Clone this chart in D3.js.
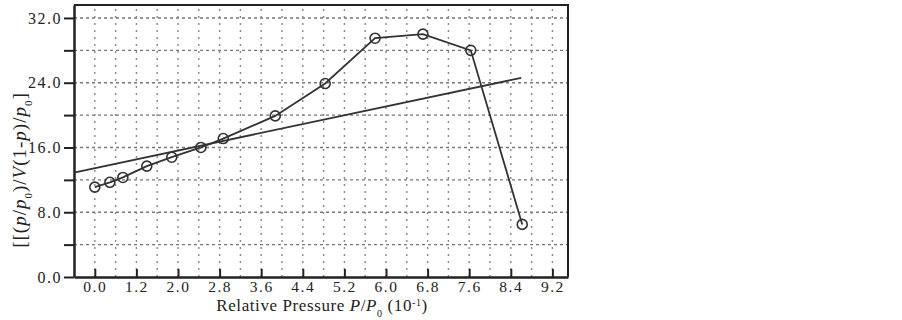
<!DOCTYPE html>
<html>
<head>
<meta charset="utf-8">
<script src="https://cdn.jsdelivr.net/npm/d3@7"></script>
<style>
  body { margin: 0; background: #fff; }
  text { font-family: "Liberation Serif", "DejaVu Serif", serif; fill: #222; }
</style>
</head>
<body>
<div id="chart"></div>
<script>
// measured points, x in 10^-1 units of P/P0
const pressure = [0.4, 0.69, 0.94, 1.4, 1.88, 2.44, 2.87, 3.87, 4.83, 5.79, 6.71, 7.63, 8.62];
const bet = [11.1, 11.7, 12.3, 13.7, 14.8, 16.0, 17.1, 19.9, 23.9, 29.5, 30.0, 28.0, 6.5];

// fitted straight line (ends)
const fitX = [0, 8.6];
const fitY = [12.9, 24.6];

const xTickValues = [0.4, 1.2, 2.0, 2.8, 3.6, 4.4, 5.2, 6.0, 6.8, 7.6, 8.4, 9.2];
const xTickLabels = ["0.0", "1.2", "2.0", "2.8", "3.6", "4.4", "5.2", "6.0", "6.8", "7.6", "8.4", "9.2"];
const yTickValues = [0, 8, 16, 24, 32];
const yMinorTicks = [4, 12, 20, 28];

const W = 902, H = 320;
const svg = d3.select("#chart").append("svg")
    .attr("width", W).attr("height", H);

const x = d3.scaleLinear().domain([0, 9.5]).range([74, 568]);
const y = d3.scaleLinear().domain([0, 33.6]).range([277, 5]);

// grid
const hGrid = d3.range(4, 33, 4);
const vGrid = d3.range(1, 24).map(i => +(i * 0.4).toFixed(1));

svg.append("g").selectAll("line").data(hGrid).enter().append("line")
    .attr("x1", x(0)).attr("x2", x(9.5))
    .attr("y1", d => y(d)).attr("y2", d => y(d))
    .attr("stroke", "#777").attr("stroke-width", 1.4)
    .attr("stroke-dasharray", "3,3");

svg.append("g").selectAll("line").data(vGrid).enter().append("line")
    .attr("x1", d => x(d)).attr("x2", d => x(d))
    .attr("y1", y(0)).attr("y2", y(33.6))
    .attr("stroke", "#888").attr("stroke-width", 1.4)
    .attr("stroke-dasharray", "2,5");

// frame top / right
svg.append("path")
    .attr("d", `M${x(0)},${y(33.6)} L${x(9.5)},${y(33.6)} L${x(9.5)},${y(0)}`)
    .attr("fill", "none").attr("stroke", "#222").attr("stroke-width", 2);

// axes
const yAxis = d3.axisLeft(y).tickValues(yTickValues)
    .tickFormat(d3.format(".1f")).tickSize(10).tickSizeOuter(0).tickPadding(2);
const gy = svg.append("g").attr("transform", `translate(${x(0)},0)`).call(yAxis);
gy.select(".domain").attr("stroke", "#222").attr("stroke-width", 2.5);
gy.selectAll(".tick line").attr("stroke", "#222").attr("stroke-width", 2);
gy.selectAll(".tick text").style("font-size", "16px").style("letter-spacing", "1.5px").attr("fill", "#222");

const gyMinor = svg.append("g").attr("transform", `translate(${x(0)},0)`)
    .call(d3.axisLeft(y).tickValues(yMinorTicks).tickFormat("").tickSize(10).tickSizeOuter(0));
gyMinor.select(".domain").remove();
gyMinor.selectAll(".tick line").attr("stroke", "#222").attr("stroke-width", 2);

const xAxis = d3.axisBottom(x).tickValues(xTickValues)
    .tickFormat((d, i) => xTickLabels[i]).tickSize(-8).tickSizeOuter(0).tickPadding(4);
const gx = svg.append("g").attr("transform", `translate(0,${y(0)})`).call(xAxis);
gx.select(".domain").attr("stroke", "#222").attr("stroke-width", 2.5);
gx.selectAll(".tick line").attr("stroke", "#222").attr("stroke-width", 2);
gx.selectAll(".tick text").style("font-size", "15.5px").style("letter-spacing", "1.5px").attr("fill", "#222");

// fitted line
svg.append("line")
    .attr("x1", x(fitX[0])).attr("y1", y(fitY[0]))
    .attr("x2", x(fitX[1])).attr("y2", y(fitY[1]))
    .attr("stroke", "#333").attr("stroke-width", 1.8);

// data line + circles
const pts = pressure.map((p, i) => ({x: p, y: bet[i]}));
svg.append("path").datum(pts)
    .attr("d", d3.line().x(d => x(d.x)).y(d => y(d.y)))
    .attr("fill", "none").attr("stroke", "#333").attr("stroke-width", 1.8);

svg.selectAll(".pt").data(pts).enter().append("circle")
    .attr("class", "pt")
    .attr("cx", d => x(d.x)).attr("cy", d => y(d.y)).attr("r", 5)
    .attr("fill", "none").attr("stroke", "#333").attr("stroke-width", 1.6);

// axis titles
const xt = svg.append("text").attr("x", 322).attr("y", 311)
    .attr("text-anchor", "middle").style("font-size", "17px").style("letter-spacing", "0.6px");
xt.append("tspan").text("Relative Pressure ");
xt.append("tspan").style("font-style", "italic").text("P");
xt.append("tspan").text("/");
xt.append("tspan").style("font-style", "italic").text("P");
xt.append("tspan").attr("baseline-shift", "sub").style("font-size", "10px").text("0");
xt.append("tspan").text(" (10");
xt.append("tspan").attr("baseline-shift", "super").style("font-size", "10px").text("-1");
xt.append("tspan").text(")");

const yt = svg.append("text")
    .attr("transform", "translate(26,170) rotate(-90)")
    .attr("text-anchor", "middle").style("font-size", "19px").style("letter-spacing", "1px");
yt.append("tspan").text("[[(");
yt.append("tspan").style("font-style", "italic").text("p");
yt.append("tspan").text("/");
yt.append("tspan").style("font-style", "italic").text("p");
yt.append("tspan").attr("baseline-shift", "sub").style("font-size", "11px").text("0");
yt.append("tspan").text(")/");
yt.append("tspan").style("font-style", "italic").text("V");
yt.append("tspan").text("(1-");
yt.append("tspan").style("font-style", "italic").text("p");
yt.append("tspan").text(")/");
yt.append("tspan").style("font-style", "italic").text("p");
yt.append("tspan").attr("baseline-shift", "sub").style("font-size", "11px").text("0");
yt.append("tspan").text("]");
</script>
</body>
</html>
